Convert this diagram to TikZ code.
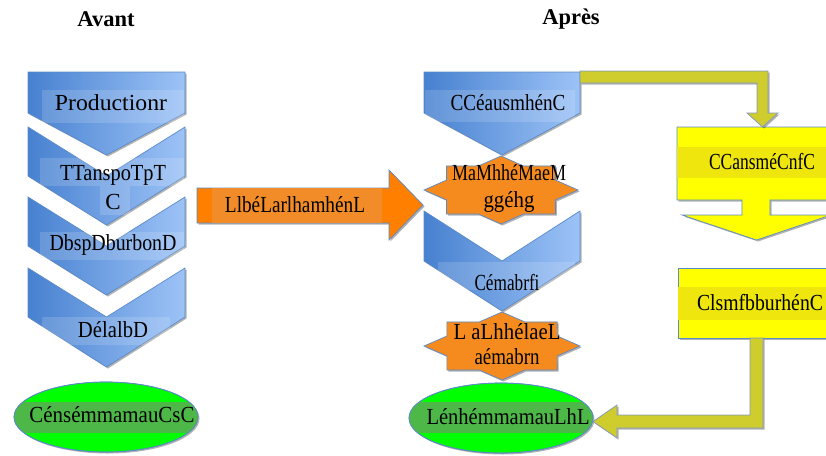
\documentclass[tikz,border=0pt]{standalone}
\usepackage{fontspec}
\usepackage{graphicx}
\setmainfont{Liberation Serif}
\usetikzlibrary{shadows}
\definecolor{blueL}{HTML}{4781D0}
\definecolor{blueR}{HTML}{9DC3F7}
\definecolor{edgeB}{HTML}{5A8AC8}
\definecolor{orangeA}{HTML}{FF8000}
\definecolor{orangeBand}{HTML}{F28C28}
\definecolor{starO}{HTML}{F58A1F}
\definecolor{greenE}{HTML}{00FF00}
\definecolor{greenBand}{HTML}{4DB848}
\definecolor{yel}{HTML}{FFFF00}
\definecolor{yelBand}{HTML}{EFE60E}
\definecolor{oliveA}{HTML}{CFCC2E}
\definecolor{oliveEdge}{HTML}{8298BC}
\newsavebox\fitbox
\newcommand\fitto[2]{\sbox\fitbox{#2}\resizebox{#1}{\ht\fitbox}{\usebox\fitbox}}
\begin{document}
\begin{tikzpicture}[x=1pt,y=-1pt,
  shd/.style={drop shadow={shadow xshift=1.5pt,shadow yshift=-1.5pt,opacity=0.3,fill=black}},
  shp/.style={draw=edgeB,line width=0.7pt,line join=miter},
  bluebox/.style={shp,shd,left color=blueL,right color=blueR},
  overlay/.style={fill=white,opacity=0.15},
  orangebox/.style={shp,shd,fill=orangeA},
  starbox/.style={shp,shd,fill=starO},
  greenbox/.style={shp,shd,fill=greenE},
  yelbox/.style={shp,shd,fill=yel},
  olivebox/.style={draw=oliveEdge,line width=0.7pt,fill=oliveA,shd},
  lbl/.style={font=\fontsize{23}{27}\selectfont,text=black,inner sep=0pt,align=center},
  ttl/.style={font=\fontsize{22.5}{26}\selectfont\bfseries,inner sep=0pt}]
\useasboundingbox (0,0) rectangle (826,455);

% titles
\node[ttl] (avant) at (106,19) {Avant};
\node[ttl] (apres) at (571,19) {Après};

% ---------- left column ----------
\path[bluebox] (28,72)--(185,72)--(185,113)--(106.5,155)--(28,113)--cycle;
\fill[overlay] (42,90) rectangle (184,123);
\path[bluebox] (28,127)--(106.5,176)--(185,127)--(185,176)--(106.5,225)--(28,176)--cycle;
\fill[overlay] (40,158) rectangle (184,186);
\fill[overlay] (100,186) rectangle (130,215);
\path[bluebox] (28,197)--(106.5,246)--(185,197)--(185,246)--(106.5,295)--(28,246)--cycle;
\fill[overlay] (40,232) rectangle (184,260);
\path[bluebox] (28,268)--(106.5,317)--(185,268)--(185,317)--(106.5,367)--(28,317)--cycle;
\fill[overlay] (42,317) rectangle (170,345);

\path[greenbox] (106,417) ellipse [x radius=92,y radius=35];
\begin{scope}
  \clip (106,417) ellipse [x radius=92,y radius=35];
  \fill[greenBand] (10,402) rectangle (200,433);
\end{scope}
\draw[draw=edgeB,line width=0.7pt] (106,417) ellipse [x radius=92,y radius=35];

\node[lbl] (prod) at (111,103) {\fitto{112pt}{Productionr}};
\node[lbl,font=\fontsize{23}{29}\selectfont] (trans) at (113,187.5) {\fitto{106pt}{TTanspoTpT}\\C};
\node[lbl] (dist) at (113,245) {\fitto{127pt}{DbspDburbonD}};
\node[lbl] (delai) at (113,330) {\fitto{70pt}{DélalbD}};
\node[lbl] (cons1) at (112,415) {\fitto{165pt}{CénsémmamauCsC}};

% ---------- orange arrow ----------
\path[orangebox] (197,188)--(389,188)--(389,170)--(423,205)--(389,240)--(389,223)--(197,223)--cycle;
\fill[orangeBand] (212,188.4) rectangle (382,222.6);
\node[lbl] (lib) at (295,205) {\fitto{140pt}{LlbéLarlhamhénL}};

% ---------- right column ----------
\path[bluebox] (424,211)--(502,261)--(580,211)--(580,261)--(502,311)--(424,261)--cycle;
\fill[overlay] (438,262) rectangle (575,290);
\path[bluebox] (424,72)--(580,72)--(580,113)--(502,155)--(424,113)--cycle;
\fill[overlay] (425,90) rectangle (575,122);

\path[starbox] plot[samples at={0,...,15},variable=\k]
  ({501+(1-0.235*mod(\k,2))*77*cos(\k*22.5)},{190+(1-0.235*mod(\k,2))*34*sin(\k*22.5)})--cycle;
\path[starbox] plot[samples at={0,...,15},variable=\k]
  ({502+(1-0.235*mod(\k,2))*78*cos(\k*22.5)},{346+(1-0.235*mod(\k,2))*34*sin(\k*22.5)})--cycle;

\path[greenbox] (501,418) ellipse [x radius=92,y radius=35];
\begin{scope}
  \clip (501,418) ellipse [x radius=92,y radius=35];
  \fill[greenBand] (405,402) rectangle (595,433);
\end{scope}
\draw[draw=edgeB,line width=0.7pt] (501,418) ellipse [x radius=92,y radius=35];

\node[lbl] (cause) at (508,103) {\fitto{115pt}{CCéausmhénC}};
\node[lbl] (marge) at (509,188.5) {\fitto{114pt}{MaMhhéMaeM}\\\fitto{51pt}{ggéhg}};
\node[lbl] (cem) at (507,283) {\fitto{65pt}{Cémabrfi}};
\node[lbl,font=\fontsize{23}{25}\selectfont] (lae) at (507,344.5) {\fitto{107pt}{L aLhhélaeL}\\\fitto{65pt}{aémabrn}};
\node[lbl] (cons2) at (508,417) {\fitto{163pt}{LénhémmamauLhL}};

% ---------- yellow boxes ----------
\path[yelbox] (677,127)--(836,127)--(836,200)--(770,200)--(770,215)--(831,215)--(756.5,240)--(682,215)--(742,215)--(742,200)--(677,200)--cycle;
\fill[yelBand] (677.4,147) rectangle (836,178);
\path[yelbox] (678,268) rectangle (836,338);
\fill[yelBand] (678.4,287) rectangle (836,320);
\node[lbl] (conso) at (762,162) {\fitto{106pt}{CCansméCnfC}};
\node[lbl] (distr) at (760,303) {\fitto{126pt}{ClsmfbburhénC}};

% ---------- olive arrows ----------
\path[olivebox] (580,71)--(768,71)--(768,113)--(778,113)--(762.5,127)--(747,113)--(757,113)--(757,83)--(580,83)--cycle;
\path[olivebox] (750,338)--(763,338)--(763,428)--(617,428)--(617,438)--(593,421.5)--(617,405)--(617,415)--(750,415)--cycle;
\end{tikzpicture}
\end{document}
